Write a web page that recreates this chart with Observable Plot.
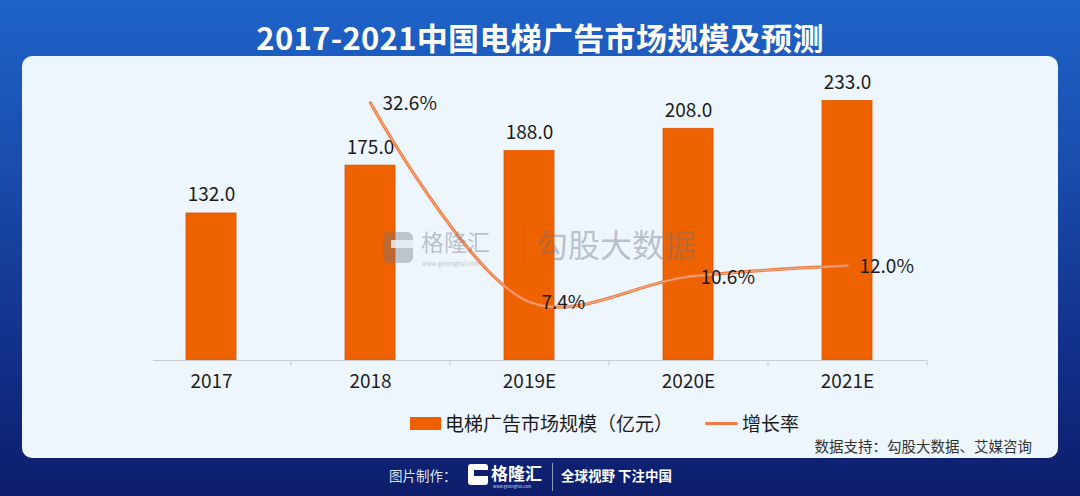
<!DOCTYPE html>
<html><head><meta charset="utf-8">
<script src="https://cdn.jsdelivr.net/npm/d3@7"></script>
<script src="https://cdn.jsdelivr.net/npm/@observablehq/plot@0.6"></script>
<style>
body{margin:0;font-family:"Noto Sans CJK SC","Noto Sans",sans-serif;}
#root{position:relative;width:1080px;height:496px;overflow:hidden;
 background:linear-gradient(180deg,#1e63c8 0%,#1a4fb0 30%,#12308a 70%,#0d1d6b 100%);}
#title{position:absolute;left:0;top:14px;width:1080px;text-align:center;color:#fff;font-weight:700;font-size:31px;line-height:46px;letter-spacing:0.3px;}
#panel{position:absolute;left:22px;top:56px;width:1036px;height:402px;background:#eef6fd;border-radius:10px;}
.plot{position:absolute;left:0;top:0;}
.abs{position:absolute;white-space:nowrap;}
.wm{color:rgba(110,115,130,0.42);}
</style></head>
<body>
<div id="root">
  <div id="title">2017-2021中国电梯广告市场规模及预测</div>
  <div id="panel"></div>
  <div id="chart" class="plot"></div>
  <div id="chart2" class="plot"></div>
  <!-- watermark -->
  <div class="abs" style="left:383px;top:232px;width:30px;height:31px;border-radius:6px;background:rgba(110,115,130,0.38);"></div>
  <div class="abs" style="left:391px;top:240px;width:22px;height:8px;background:#eef6fd;opacity:0.8;"></div>
  <div class="abs wm" style="left:421px;top:229px;font-size:23px;line-height:24px;">格隆汇</div>
  <div class="abs wm" style="left:422px;top:261px;font-size:6px;line-height:6px;">www.gelonghui.com</div>
  <div class="abs" style="left:523px;top:223px;width:1px;height:42px;background:rgba(110,115,130,0.35);"></div>
  <div class="abs wm" style="left:536px;top:221px;font-size:32px;line-height:44px;">勾股大数据</div>
  <!-- legend -->
  <div class="abs" style="left:410px;top:417px;width:31px;height:13px;background:#ee5f00;"></div>
  <div class="abs" style="left:445px;top:410px;font-size:19px;line-height:26px;color:#1a1a1a;">电梯广告市场规模（亿元）</div>
  <div class="abs" style="left:705px;top:422px;width:33px;height:3px;background:#f07c45;border-radius:2px;"></div>
  <div class="abs" style="left:742px;top:410px;font-size:19px;line-height:26px;color:#1a1a1a;">增长率</div>
  <div class="abs" style="right:48px;top:436px;font-size:14.5px;line-height:20px;color:#333;">数据支持：勾股大数据、艾媒咨询</div>
  <!-- footer -->
  <div class="abs" style="left:389px;top:465px;font-size:13.5px;line-height:20px;color:#dde5f5;">图片制作：</div>
  <div class="abs" style="left:468px;top:464px;width:20px;height:21px;border-radius:3px;background:#fff;"></div>
  <div class="abs" style="left:474px;top:470px;width:14px;height:6px;background:#0e1f6e;"></div>
  <div class="abs" style="left:491px;top:462px;font-size:17px;font-weight:700;line-height:22px;color:#fff;">格隆汇</div>
  <div class="abs" style="left:493px;top:484px;font-size:4px;line-height:5px;color:#cfd8ee;">www.gelonghui.com</div>
  <div class="abs" style="left:552px;top:463px;width:1px;height:28px;background:rgba(255,255,255,0.55);"></div>
  <div class="abs" style="left:561px;top:465px;font-size:13.5px;font-weight:700;line-height:20px;color:#fff;">全球视野 下注中国</div>
</div>
<script>
const years = ["2017","2018","2019E","2020E","2021E"];
const marketSize = [132.0, 175.0, 188.0, 208.0, 233.0];
const rateYears = ["2018","2019E","2020E","2021E"];
const growthRate = [32.6, 7.4, 10.6, 12.0];

const bars = years.map((y, i) => ({year: y, size: marketSize[i]}));
const rates = rateYears.map((y, i) => ({year: y, rate: growthRate[i]}));

const W = 1080, H = 400;
const xRange = [131, 926];
const step = (xRange[1] - xRange[0]) / years.length;
const font = '"Noto Sans CJK SC","Noto Sans",sans-serif';
const common = {
  width: W, height: H,
  marginLeft: 153, marginRight: W - xRange[1], marginTop: 70.4, marginBottom: 40,
  style: {background: "transparent", fontFamily: font, overflow: "visible"}
};
const xOpts = {type: "band", domain: years, range: xRange, paddingInner: 0.686, paddingOuter: 0.343, label: null};

const p1 = Plot.plot({
  ...common,
  x: {...xOpts, axis: null},
  y: {domain: [0, 260], axis: null},
  marks: [
    Plot.barY(bars, {x: "year", y: "size", fill: "#ef6200", stroke: "#e45400", strokeWidth: 0.8}),
    Plot.ruleY([0], {stroke: "#c9cdd2", strokeWidth: 1.2}),
    Plot.ruleX(years, {x: d => d, dx: step / 2, y1: 0, y2: -5, stroke: "#c9cdd2", strokeWidth: 1.2}),
    Plot.text(bars, {x: "year", y: "size", text: d => d.size.toFixed(1), dy: -12, lineAnchor: "bottom",
      fontSize: 19, fill: "#1a1a1a"}),
    Plot.axisX({domain: years, label: null, tickSize: 0, tickPadding: 14, fontSize: 19, lineAnchor: "top", fill: "#1f1f1f"})
  ]
});
document.getElementById("chart").appendChild(p1);

const p2 = Plot.plot({
  ...common,
  x: {...xOpts, axis: null},
  y: {domain: [0, 36.66], axis: null},
  marks: [
    Plot.lineY(rates, {x: "year", y: "rate", curve: "catmull-rom", stroke: "#f07a40", strokeWidth: 3.2}),
    Plot.lineY(rates, {x: "year", y: "rate", curve: "catmull-rom", stroke: "#ffd9c4", strokeWidth: 1, strokeOpacity: 0.6}),
    Plot.text(rates, {x: "year", y: "rate", text: d => d.rate.toFixed(1) + "%", dx: 12, dy: 1,
      textAnchor: "start", fontSize: 19, fill: "#1a1a1a"})
  ]
});
document.getElementById("chart2").appendChild(p2);
</script>
</body></html>
